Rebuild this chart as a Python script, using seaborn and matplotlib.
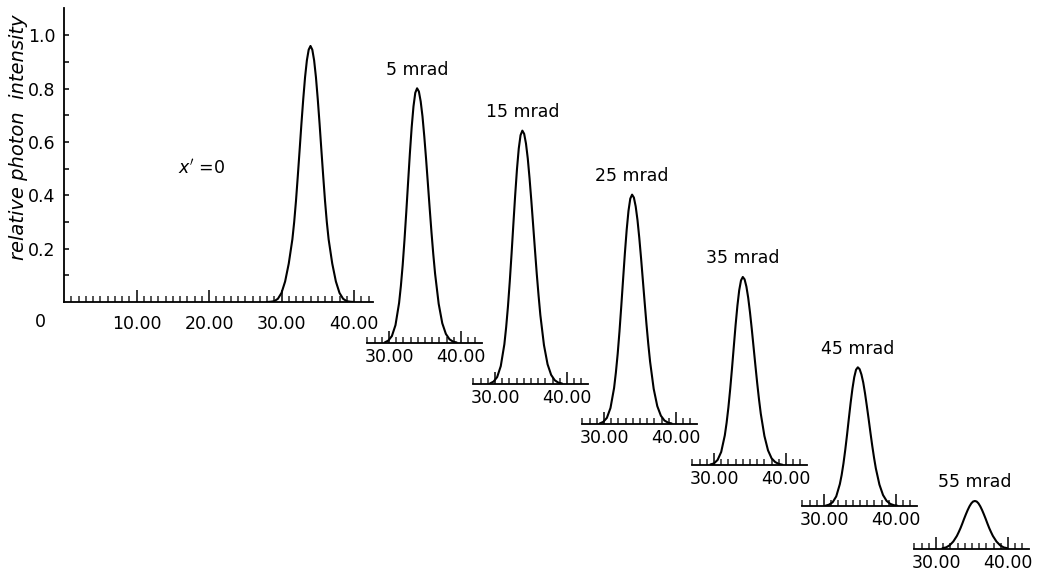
import matplotlib
matplotlib.use("Agg")
import matplotlib.pyplot as plt
import seaborn as sns
import numpy as np
from matplotlib.ticker import FixedLocator, FixedFormatter

sns.set_style("ticks")
plt.rcParams['font.family'] = ['DejaVu Sans']
plt.rcParams['text.color'] = 'black'
plt.rcParams['axes.labelcolor'] = 'black'

# ---------------- data ----------------
main_x = [28.0, 28.5, 29.0, 29.5, 30.0, 30.5, 31.0, 31.5, 31.75, 32.0, 32.25, 32.5, 32.75,
          33.0, 33.25, 33.5, 33.75, 34.0, 34.25, 34.5, 34.75, 35.0, 35.25, 35.5, 35.75,
          36.0, 36.25, 36.5, 37.0, 37.5, 38.0, 38.5, 39.0, 39.5, 40.0]
main_y = [0.0, 0.001, 0.003, 0.012, 0.034, 0.077, 0.144, 0.235, 0.300, 0.38, 0.473, 0.57, 0.669,
          0.761, 0.843, 0.906, 0.946, 0.96, 0.946, 0.906, 0.843, 0.761, 0.669, 0.57, 0.473,
          0.38, 0.300, 0.235, 0.144, 0.077, 0.034, 0.012, 0.003, 0.001, 0.0]

x_5 = [29.4, 29.9, 30.4, 30.9, 31.4, 31.65, 31.9, 32.15, 32.4, 32.65, 32.9, 33.15, 33.4,
       33.65, 33.9, 34.15, 34.4, 34.65, 34.9, 35.15, 35.4, 35.65, 35.9, 36.15, 36.4,
       36.9, 37.4, 37.9, 38.4, 38.9, 39.4]
y_5 = [0.002, 0.009, 0.026, 0.067, 0.150, 0.214, 0.292, 0.386, 0.491, 0.602, 0.711, 0.809, 0.887,
       0.938, 0.955, 0.943, 0.906, 0.850, 0.775, 0.690, 0.598, 0.505, 0.415, 0.333, 0.260,
       0.147, 0.074, 0.034, 0.014, 0.005, 0.002]

x_15 = [29.3, 29.8, 30.3, 30.8, 31.3, 31.55, 31.8, 32.05, 32.3, 32.55, 32.8, 33.05, 33.3,
        33.55, 33.8, 34.05, 34.3, 34.55, 34.8, 35.05, 35.3, 35.55, 35.8, 36.05, 36.3,
        36.8, 37.3, 37.8, 38.3, 38.8, 39.3]
y_15 = [0.002, 0.009, 0.026, 0.067, 0.149, 0.213, 0.291, 0.384, 0.488, 0.599, 0.707, 0.805, 0.883,
        0.933, 0.95, 0.938, 0.902, 0.846, 0.771, 0.686, 0.595, 0.503, 0.413, 0.332, 0.258,
        0.146, 0.074, 0.034, 0.014, 0.005, 0.002]

x_25 = [29.4, 29.9, 30.4, 30.9, 31.4, 31.65, 31.9, 32.15, 32.4, 32.65, 32.9, 33.15, 33.4,
        33.65, 33.9, 34.15, 34.4, 34.65, 34.9, 35.15, 35.4, 35.65, 35.9, 36.15, 36.4,
        36.9, 37.4, 37.9, 38.4, 38.9, 39.4]
y_25 = [0.002, 0.008, 0.023, 0.060, 0.135, 0.193, 0.263, 0.347, 0.442, 0.542, 0.640, 0.728, 0.799,
        0.845, 0.86, 0.849, 0.816, 0.765, 0.698, 0.621, 0.538, 0.455, 0.374, 0.300, 0.234,
        0.132, 0.067, 0.031, 0.013, 0.005, 0.002]

x_35 = [29.5, 30.0, 30.5, 31.0, 31.5, 31.75, 32.0, 32.25, 32.5, 32.75, 33.0, 33.25, 33.5,
        33.75, 34.0, 34.25, 34.5, 34.75, 35.0, 35.25, 35.5, 35.75, 36.0, 36.25, 36.5,
        37.0, 37.5, 38.0, 38.5, 39.0, 39.5]
y_35 = [0.002, 0.006, 0.019, 0.049, 0.111, 0.158, 0.216, 0.285, 0.362, 0.444, 0.525, 0.597, 0.655,
        0.692, 0.705, 0.696, 0.669, 0.627, 0.572, 0.509, 0.441, 0.373, 0.307, 0.246, 0.192,
        0.109, 0.055, 0.025, 0.011, 0.004, 0.001]

x_45 = [30.2, 30.7, 31.2, 31.7, 32.2, 32.45, 32.7, 32.95, 33.2, 33.45, 33.7, 33.95, 34.2,
        34.45, 34.7, 34.95, 35.2, 35.45, 35.7, 35.95, 36.2, 36.45, 36.7, 36.95, 37.2,
        37.7, 38.2, 38.7, 39.2, 39.7, 40.2]
y_45 = [0.001, 0.005, 0.014, 0.036, 0.082, 0.116, 0.159, 0.210, 0.267, 0.328, 0.387, 0.440, 0.483,
        0.511, 0.52, 0.513, 0.493, 0.463, 0.422, 0.375, 0.326, 0.275, 0.226, 0.181, 0.141,
        0.080, 0.041, 0.019, 0.008, 0.003, 0.001]

x_55 = [30.9, 31.4, 31.9, 32.4, 32.9, 33.15, 33.4, 33.65, 33.9, 34.15, 34.4, 34.65, 34.9,
        35.15, 35.4, 35.65, 35.9, 36.15, 36.4, 36.65, 36.9, 37.15, 37.4, 37.65, 37.9,
        38.4, 38.9, 39.4, 39.9]
y_55 = [0.003, 0.006, 0.014, 0.028, 0.049, 0.063, 0.078, 0.095, 0.113, 0.130, 0.146, 0.160, 0.171,
        0.178, 0.18, 0.178, 0.171, 0.160, 0.146, 0.130, 0.113, 0.095, 0.078, 0.063, 0.049,
        0.028, 0.014, 0.006, 0.003]

inset_labels = ["5 mrad", "15 mrad", "25 mrad", "35 mrad", "45 mrad", "55 mrad"]
inset_xs = [x_5, x_15, x_25, x_35, x_45, x_55]
inset_ys = [y_5, y_15, y_25, y_35, y_45, y_55]

main_ticklabels = ["10.00", "20.00", "30.00", "40.00"]
main_yticklabels = ["0.2", "0.4", "0.6", "0.8", "1.0"]
inset_ticklabels = ["30.00", "40.00"]

# ---------------- layout (pixel geometry) ----------------
W, H = 1041, 572
PX_PER_UNIT_Y = 266.7
PX_PER_UNIT_X = 7.2

fig = plt.figure(figsize=(W / 100, H / 100), dpi=100)
fig.patch.set_facecolor("white")

LW_CURVE = 1.5
LW_AXIS = 1.3
FS = 12.5


def px_axes(left, base, width_px, height_px):
    return fig.add_axes([left / W, 1 - base / H, width_px / W, height_px / H])


# main axes
main_left, main_base, main_right, main_top = 64, 302, 373, 8
ax = px_axes(main_left, main_base, main_right - main_left, main_base - main_top)
ax.set_facecolor("none")
sns.lineplot(x=main_x, y=main_y, ax=ax, color="black", linewidth=LW_CURVE)
ax.set_xlim(0, (main_right - main_left) / 7.25)
ax.set_ylim(0, (main_base - main_top) / PX_PER_UNIT_Y)
for s in ["top", "right"]:
    ax.spines[s].set_visible(False)
for s in ["left", "bottom"]:
    ax.spines[s].set_linewidth(LW_AXIS)
    ax.spines[s].set_color("black")
ax.xaxis.set_major_locator(FixedLocator([10, 20, 30, 40]))
ax.xaxis.set_major_formatter(FixedFormatter(main_ticklabels))
ax.xaxis.set_minor_locator(FixedLocator(list(range(1, 43))))
ax.yaxis.set_major_locator(FixedLocator([0.2, 0.4, 0.6, 0.8, 1.0]))
ax.yaxis.set_major_formatter(FixedFormatter(main_yticklabels))
ax.yaxis.set_minor_locator(FixedLocator([0.1, 0.3, 0.5, 0.7, 0.9]))
ax.tick_params(axis="x", which="major", direction="in", length=9, width=1.1,
               pad=9, labelsize=FS, colors="black")
ax.tick_params(axis="x", which="minor", direction="in", length=4.5, width=1.1)
ax.tick_params(axis="y", which="both", direction="in", length=3.5, width=1.1,
               pad=6, labelsize=FS, colors="black")
ax.set_xlabel("")
ax.set_ylabel("")
fig.text(40 / W, 1 - 322 / H, "0", ha="center", va="center", fontsize=FS)
fig.text(19 / W, 1 - 137 / H, "relative photon  intensity", rotation=90,
         ha="center", va="center", fontsize=14, style="italic")
ax.text(19.0, (main_base - 168) / PX_PER_UNIT_Y, r"$x'$ =0", ha="center", va="center",
        fontsize=FS)

# insets: (x pixel of the 30.00 tick, baseline pixel)
inset_pos = [(389, 343), (495, 384), (604, 424), (714, 465), (824, 506), (936, 549)]
XL0, XL1 = 26.9, 42.9
for (x30, base), xs, ys, lab in zip(inset_pos, inset_xs, inset_ys, inset_labels):
    left = x30 - (30 - XL0) * PX_PER_UNIT_X
    width = (XL1 - XL0) * PX_PER_UNIT_X
    a = px_axes(left, base, width, PX_PER_UNIT_Y)
    a.set_facecolor("none")
    sns.lineplot(x=xs, y=ys, ax=a, color="black", linewidth=LW_CURVE)
    a.set_xlim(XL0, XL1)
    a.set_ylim(0, 1.0)
    for s in ["top", "right", "left"]:
        a.spines[s].set_visible(False)
    a.spines["bottom"].set_linewidth(LW_AXIS)
    a.spines["bottom"].set_color("black")
    a.xaxis.set_major_locator(FixedLocator([30, 40]))
    a.xaxis.set_major_formatter(FixedFormatter(inset_ticklabels))
    a.xaxis.set_minor_locator(FixedLocator(list(range(27, 43))))
    a.tick_params(axis="x", which="major", direction="in", length=9, width=1.1,
                  pad=3.5, labelsize=FS, colors="black")
    a.tick_params(axis="x", which="minor", direction="in", length=4.5, width=1.1)
    a.set_yticks([])
    a.set_xlabel("")
    a.set_ylabel("")
    i = int(np.argmax(ys))
    a.annotate(lab, xy=(xs[i], ys[i]), xytext=(0, 7), textcoords="offset points",
               ha="center", va="bottom", fontsize=FS, color="black")

fig.savefig("out.png", dpi=100, facecolor="white")
